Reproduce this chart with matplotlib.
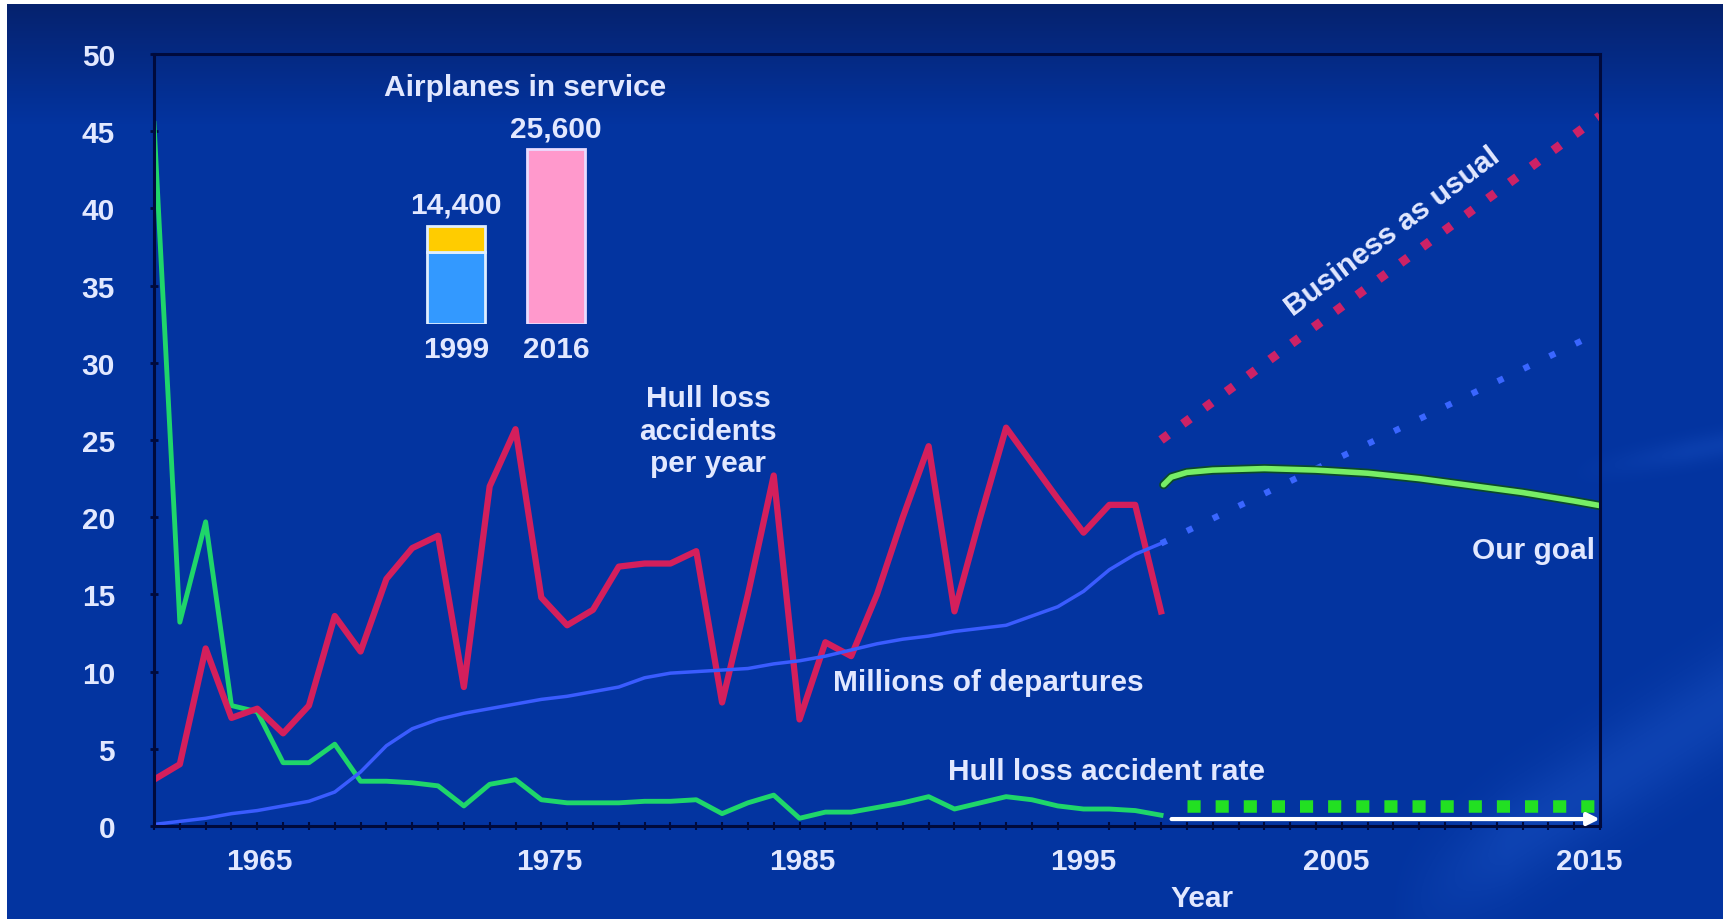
import numpy as np
import matplotlib.pyplot as plt
import matplotlib.patheffects as pe
from matplotlib.colors import to_rgb

plt.rcParams['font.family'] = ['Liberation Sans', 'DejaVu Sans']
plt.rcParams['font.weight'] = 'bold'

# historical record, 1959-1998
years = list(range(1959, 1999))
hull_losses = [3, 4, 11.5, 7, 7.6, 6, 7.8, 13.6, 11.3, 16,
               18, 18.8, 9, 22, 25.7, 14.8, 13, 14, 16.8, 17,
               17, 17.8, 8, 15, 22.7, 6.9, 11.9, 11, 15, 20,
               24.6, 13.9, 20, 25.8, 23.5, 21.2, 19, 20.8, 20.8, 13.9]
loss_rate = [45.5, 13.2, 19.7, 7.8, 7.4, 4.1, 4.1, 5.3, 2.9, 2.9,
             2.8, 2.6, 1.3, 2.7, 3.0, 1.7, 1.5, 1.5, 1.5, 1.6,
             1.6, 1.7, 0.8, 1.5, 2.0, 0.5, 0.9, 0.9, 1.2, 1.5,
             1.9, 1.1, 1.5, 1.9, 1.7, 1.3, 1.1, 1.1, 1.0, 0.7]
departures = [0.1, 0.3, 0.5, 0.8, 1.0, 1.3, 1.6, 2.2, 3.5, 5.2,
              6.3, 6.9, 7.3, 7.6, 7.9, 8.2, 8.4, 8.7, 9.0, 9.6,
              9.9, 10.0, 10.1, 10.2, 10.5, 10.7, 11.0, 11.4, 11.8, 12.1,
              12.3, 12.6, 12.8, 13.0, 13.6, 14.2, 15.2, 16.6, 17.6, 18.3]

# projections to 2015
proj_years = [1998, 2015]
business_as_usual = [25, 46]
departures_proj = [18.3, 32]
goal_years = [1998.1, 1998.4, 1999, 2000, 2002, 2004, 2006, 2008, 2010, 2012, 2014, 2015]
goal_losses = [22.1, 22.6, 22.9, 23.05, 23.15, 23.05, 22.85, 22.5, 22.05, 21.6, 21.05, 20.75]
goal_rate_years = [1999, 2014.8]
goal_rate = [1.3, 1.3]

# airplanes in service inset
fleet_labels = ['1999', '2016']
fleet_total = [14400, 25600]
fleet_1999_parts = [10500, 3900]

xtick_text = ['1965', '1975', '1985', '1995', '2005', '2015']
xtick_pos = [1963.1, 1974.3, 1984.1, 1995.0, 2004.8, 2014.6]

txt = '#e2e8ff'
frame = '#000a3c'
fs = 21.5
W, H = 1724, 920

fig = plt.figure(figsize=(W / 100, H / 100), dpi=100)
fig.patch.set_facecolor('white')

# blue slide background: darker toward the top, two soft light streaks on the right
bw, bh = W - 7, H - 5
bg = fig.add_axes([7 / W, 0, bw / W, bh / H])
bg.axis('off')
yy, xx = np.mgrid[0:bh, 0:bw]
t = np.clip(yy / 120.0, 0, 1)[..., None]
img = np.array(to_rgb('#06226e')) * (1 - t) + np.array(to_rgb('#0334a0')) * t


def streak(x0, y0, x1, y1, width, amount):
    dx, dy = x1 - x0, y1 - y0
    d = np.abs(dy * (xx - x0) - dx * (yy - y0)) / np.hypot(dx, dy)
    fade = np.clip((xx - x0) / 120.0, 0, 1)
    return amount * np.exp(-(d / width) ** 2) * fade


glow = streak(1380, 915, 1717, 700, 45, 0.07) + streak(1560, 470, 1717, 440, 14, 0.05)
img = np.clip(img + glow[..., None] * np.array([0.6, 0.8, 1.0]), 0, 1)
bg.imshow(img, aspect='auto', extent=[0, 1, 0, 1])
bg.set_xlim(0, 1)
bg.set_ylim(0, 1)

ax = fig.add_axes([154 / W, 1 - 827 / H, (1600 - 154) / W, (827 - 55) / H])
ax.set_facecolor('none')
ax.set_xlim(1959, 2015)
ax.set_ylim(0, 50)
for s in ax.spines.values():
    s.set_color(frame)
    s.set_linewidth(2.2)

ax.set_yticks(range(0, 51, 5))
ax.tick_params(axis='y', direction='inout', length=6, width=2, color=frame,
               pad=25, labelsize=fs, labelcolor=txt)
ax.set_xticks(xtick_pos)
ax.set_xticklabels(xtick_text)
ax.set_xticks(range(1959, 2016), minor=True)
ax.tick_params(axis='x', which='major', length=0, pad=15, labelsize=fs, labelcolor=txt)
ax.tick_params(axis='x', which='minor', direction='inout', length=6, width=1.5, color=frame)
for lab in ax.get_xticklabels() + ax.get_yticklabels():
    lab.set_fontweight('bold')

ax.plot(years, loss_rate, color='#1fd66a', lw=3.5, solid_joinstyle='round')
ax.plot(years, hull_losses, color='#d41f5c', lw=4.5, solid_joinstyle='round')
ax.plot(years, departures, color='#3a5cff', lw=2.5)

ax.plot(proj_years, business_as_usual, color='#cc2266', lw=6.5,
        linestyle=(0, (1, 2)), dash_capstyle='butt')
ax.plot(proj_years, departures_proj, color='#3a66ff', lw=4.5,
        linestyle=(0, (1, 3.6)), dash_capstyle='butt')
ax.plot(goal_years, goal_losses, color='#77ee66', lw=4, solid_capstyle='round',
        path_effects=[pe.Stroke(linewidth=6.5, foreground='#0a4a2a'), pe.Normal()])
ax.plot(goal_rate_years, goal_rate, color='#22e022', lw=9,
        linestyle=(0, (1.05, 1.2)), dash_capstyle='butt')
ax.annotate('', xy=(2015.1, 0.45), xytext=(1998.3, 0.45),
            arrowprops=dict(arrowstyle='-|>', color='white', lw=3, mutation_scale=18),
            annotation_clip=False)

tk = dict(color=txt, fontsize=fs, fontweight='bold')
ax.text(1980.46, 25.6, 'Hull loss\naccidents\nper year', ha='center', va='center',
        linespacing=1.2, **tk)
ax.text(1985.3, 9.3, 'Millions of departures', ha='left', va='center', **tk)
ax.text(1989.75, 3.56, 'Hull loss accident rate', ha='left', va='center', **tk)
ax.text(2014.8, 17.9, 'Our goal', ha='right', va='center', **tk)
ax.text(2006.95, 38.5, 'Business as usual', ha='center', va='center',
        rotation=37, rotation_mode='anchor', **tk)
fig.text(1202 / W, 1 - 899 / H, 'Year', ha='center', va='center', **tk)

# airplanes in service inset bars
bx = fig.add_axes([400 / W, 1 - 325 / H, 220 / W, 180 / H])
bx.axis('off')
bx.set_xlim(-0.56, 1.64)
bx.set_ylim(0, 25600 * 180 / 175)
edge = '#dfeeff'
bx.bar(0, fleet_1999_parts[0], width=0.58, color='#3399ff', edgecolor=edge, lw=2)
bx.bar(0, fleet_1999_parts[1], bottom=fleet_1999_parts[0], width=0.58,
       color='#ffcc00', edgecolor=edge, lw=2)
bx.bar(1, fleet_total[1], width=0.58, color='#ff99cc', edgecolor='#eadcff', lw=2)
for i, (lab, tot) in enumerate(zip(fleet_labels, fleet_total)):
    bx.annotate(f'{tot:,}', xy=(i, tot), xytext=(0, 5), textcoords='offset points',
                ha='center', va='bottom', annotation_clip=False, **tk)
    bx.annotate(lab, xy=(i, 0), xytext=(0, -8), textcoords='offset points',
                ha='center', va='top', annotation_clip=False, **tk)
fig.text(525 / W, 1 - 88 / H, 'Airplanes in service', ha='center', va='center', **tk)

fig.savefig('out.png', dpi=100, facecolor=fig.get_facecolor())
